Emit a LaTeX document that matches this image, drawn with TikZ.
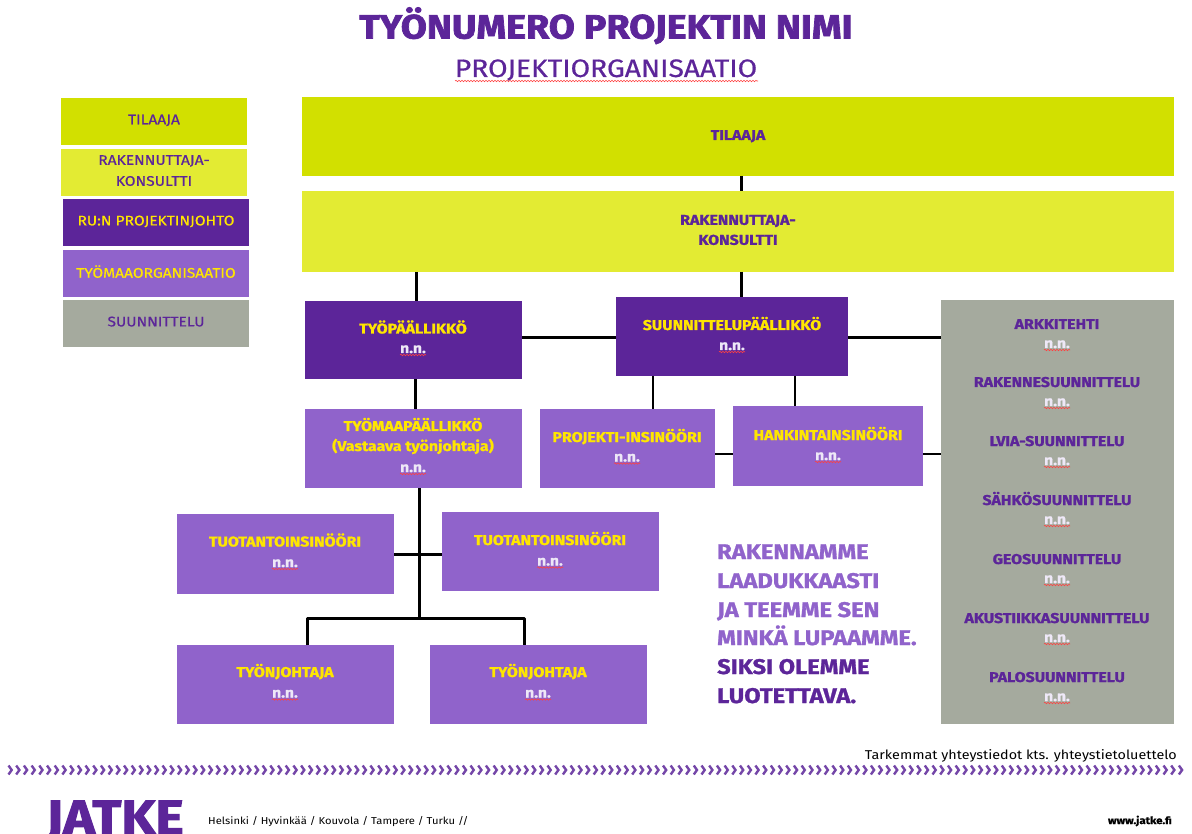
\documentclass[tikz,border=0pt]{standalone}
\usepackage{fontspec}
\setmainfont{Fira Sans}[FakeStretch=1.12,BoldFeatures={FakeStretch=1.12,FakeBold=1.2}]
\newfontfamily\heavyfont{Fira Sans Bold}[FakeStretch=1.12,FakeBold=2.2]
\newfontfamily\mediumfont{Fira Sans}[FakeStretch=1.12,FakeBold=0.6]
\usetikzlibrary{decorations.pathmorphing}
\definecolor{pdark}{HTML}{5C2599}
\definecolor{pmid}{HTML}{9063CB}
\definecolor{glime}{HTML}{D2E000}
\definecolor{gpale}{HTML}{E3EB33}
\definecolor{ggrey}{HTML}{A5AA9E}
\definecolor{yel}{HTML}{FFE600}
\tikzset{
  x=1pt,y=-1pt,
  sz/.style 2 args={minimum width=#1pt,minimum height=#2pt},
  boxbase/.style={anchor=north west,inner sep=0pt,outer sep=0pt,align=center},
  limebox/.style={boxbase,fill=glime,text=pdark},
  palebox/.style={boxbase,fill=gpale,text=pdark},
  darkbox/.style={boxbase,fill=pdark,text=yel},
  midbox/.style={boxbase,fill=pmid,text=yel},
  greybox/.style={boxbase,fill=ggrey,text=pdark},
  legend/.style={sz={186}{47},text depth=4pt,font=\fontsize{13.9}{21}\selectfont\mediumfont},
  conn/.style={draw=black,line width=3pt},
  thin conn/.style={draw=black,line width=2pt},
  squiggle/.style={draw=red!75!white,line width=.6pt,decorate,decoration={snake,amplitude=.7pt,segment length=3pt}},
  nn/.style={font=\fontsize{14}{16}\selectfont\bfseries,text=white!85!pmid,inner sep=0pt},
  lab/.style={inner sep=0pt,anchor=base,font=\fontsize{14.2}{19}\selectfont\bfseries},
  mlab/.style={inner sep=0pt,align=center,font=\fontsize{14.2}{20}\selectfont\bfseries},
  slogan/.style={anchor=base west,inner sep=0pt,font=\fontsize{21.2}{24}\selectfont\bfseries},
  chev/.style={draw=pdark!85!white,line width=2.4pt},
}
\newcommand{\nnlabel}[2]{%
  \node[nn,anchor=base] (#1) at (#2) {n.n.};
  \draw[squiggle] ([yshift=-2pt]#1.base west) -- ([yshift=-2pt]#1.base east);
}
\begin{document}
\begin{tikzpicture}
\useasboundingbox (0,0) rectangle (1192,834);
% title
\node[inner sep=0pt,anchor=base,text=pdark,font=\fontsize{33.7}{36}\selectfont\heavyfont] (title) at (606,38.5) {TYÖNUMERO PROJEKTIN NIMI};
\node[inner sep=0pt,anchor=base,text=pdark,font=\fontsize{25.2}{30}\selectfont\mediumfont] (subtitle) at (606,77) {PROJEKTIORGANISAATIO};
\draw[squiggle] (455,81) -- (758,81);
% legend
\node[limebox,legend] (l1) at (61,98) {TILAAJA};
\node[palebox,legend] (l2) at (61,149) {RAKENNUTTAJA-\\KONSULTTI};
\node[darkbox,legend] (l3) at (63,199) {RU:N PROJEKTINJOHTO};
\node[midbox,legend] (l4) at (63,250) {TYÖMAAORGANISAATIO};
\node[greybox,legend] (l5) at (63,300) {SUUNNITTELU};
% main boxes
\node[limebox,sz={872}{79}] (til) at (302,97) {};
\node[lab,text=pdark] (tilt) at (738,140) {TILAAJA};
\node[palebox,sz={872}{81}] (rak) at (302,191) {};
\node[mlab,text=pdark] (rakt) at (738,230) {RAKENNUTTAJA-\\KONSULTTI};
\node[darkbox,sz={217}{78}] (tp) at (305,301) {};
\node[darkbox,sz={232}{79}] (sp) at (616,297) {};
\node[greybox,sz={233}{424}] (su) at (941,300) {};
\node[midbox,sz={217}{79}] (tm) at (305,409) {};
\node[midbox,sz={175}{79}] (pi) at (540,409) {};
\node[midbox,sz={190}{80}] (hi) at (733,406) {};
\node[midbox,sz={217}{80}] (ti1) at (177,514) {};
\node[midbox,sz={217}{79}] (ti2) at (442,512) {};
\node[midbox,sz={217}{79}] (tj1) at (177,645) {};
\node[midbox,sz={217}{79}] (tj2) at (430,645) {};
% connectors
\coordinate (c1) at (741,176);
\draw[conn] (til.south -| c1) -- (rak.north -| c1);
\coordinate (c2) at (416,250);
\draw[conn] (rak.south -| c2) -- (tp.north -| c2);
\draw[conn] (rak.south -| c1) -- (sp.north -| c1);
\coordinate (c3) at (0,338);
\draw[conn] (tp.east |- c3) -- (sp.west |- c3);
\draw[conn] (sp.east |- c3) -- (su.west |- c3);
\coordinate (c4) at (415,0);
\draw[conn] (tp.south -| c4) -- (tm.north -| c4);
\coordinate (c5) at (653,0);
\draw[thin conn] (sp.south -| c5) -- (pi.north -| c5);
\coordinate (c6) at (795,0);
\draw[thin conn] (sp.south -| c6) -- (hi.north -| c6);
\coordinate (c7) at (0,454);
\draw[thin conn] (pi.east |- c7) -- (hi.west |- c7);
\draw[thin conn] (hi.east |- c7) -- (su.west |- c7);
\coordinate (c8) at (419,618);
\draw[conn] (tm.south -| c8) -- (c8);
\coordinate (c9) at (0,554);
\draw[conn] (ti1.east |- c9) -- (ti2.west |- c9);
\coordinate (c10) at (307,618);
\coordinate (c11) at (524,618);
\draw[conn,line join=round] (tj1.north -| c10) -- (c10) -- (c11) -- (tj2.north -| c11);
% box texts
\node[lab,text=yel] (t1) at (413,333.5) {TYÖPÄÄLLIKKÖ};
\nnlabel{n1}{413,353}
\node[lab,text=yel] (t2) at (732,330) {SUUNNITTELUPÄÄLLIKKÖ};
\nnlabel{n2}{732,350}
\node[mlab,text=yel] (t3) at (413,436) {TYÖMAAPÄÄLLIKKÖ\\(Vastaava työnjohtaja)};
\nnlabel{n3}{413,472}
\node[lab,text=yel] (t4) at (627,442) {PROJEKTI-INSINÖÖRI};
\nnlabel{n4}{627,461.5}
\node[lab,text=yel] (t5) at (828,440) {HANKINTAINSINÖÖRI};
\nnlabel{n5}{828,460}
\node[lab,text=yel] (t6) at (285,546.5) {TUOTANTOINSINÖÖRI};
\nnlabel{n6}{285,567}
\node[lab,text=yel] (t7) at (550,545) {TUOTANTOINSINÖÖRI};
\nnlabel{n7}{550,565.5}
\node[lab,text=yel] (t8) at (285,677) {TYÖNJOHTAJA};
\nnlabel{n8}{285,697.5}
\node[lab,text=yel] (t9) at (538,677) {TYÖNJOHTAJA};
\nnlabel{n9}{538,697.5}
% design list
\foreach \t/\y/\i in {ARKKITEHTI/324/a,RAKENNESUUNNITTELU/382/b,LVIA-SUUNNITTELU/441/c,SÄHKÖSUUNNITTELU/500/d,GEOSUUNNITTELU/559/e,AKUSTIIKKASUUNNITTELU/618/f,PALOSUUNNITTELU/677/g}{
  \pgfmathsetmacro{\by}{\y+5}
  \node[lab,text=pdark] (d\i) at (1057,\by) {\t};
  \pgfmathsetmacro{\ny}{\y+24}
  \nnlabel{s\i}{1057,\ny}
}
% slogan
\node[slogan,text=pmid] (s1) at (717,559) {RAKENNAMME};
\node[slogan,text=pmid] (s2) at (717,588) {LAADUKKAASTI};
\node[slogan,text=pmid] (s3) at (717,617) {JA TEEMME SEN};
\node[slogan,text=pmid] (s4) at (717,645) {MINKÄ LUPAAMME.};
\node[slogan,text=pdark] (s5) at (717,674) {SIKSI OLEMME};
\node[slogan,text=pdark] (s6) at (717,703) {LUOTETTAVA.};
% footer
\node[anchor=east,inner sep=0pt,text=black,font=\fontsize{12.8}{16}\selectfont] (more) at (1177,756) {Tarkemmat yhteystiedot kts. yhteystietoluettelo};
\foreach \k in {0,...,152}{
  \pgfmathsetmacro{\xa}{8.5+\k*7.7}
  \draw[chev] (\xa,765.5) -- ++(3.2,4.5) -- ++(-3.2,4.5);
}
\node[anchor=base west,inner sep=0pt,text depth=0pt,text=pdark,font=\fontsize{48}{48}\selectfont\heavyfont] (logo) at (46,834) {JATKE};
\node[anchor=west,inner sep=0pt,text=black,font=\fontsize{10}{13}\selectfont] (cities) at (208,822) {Helsinki / Hyvinkää / Kouvola / Tampere / Turku //};
\node[anchor=east,inner sep=0pt,text=black,font=\fontsize{10.2}{13}\selectfont\bfseries] (web) at (1172,821) {www.jatke.fi};
\end{tikzpicture}
\end{document}
